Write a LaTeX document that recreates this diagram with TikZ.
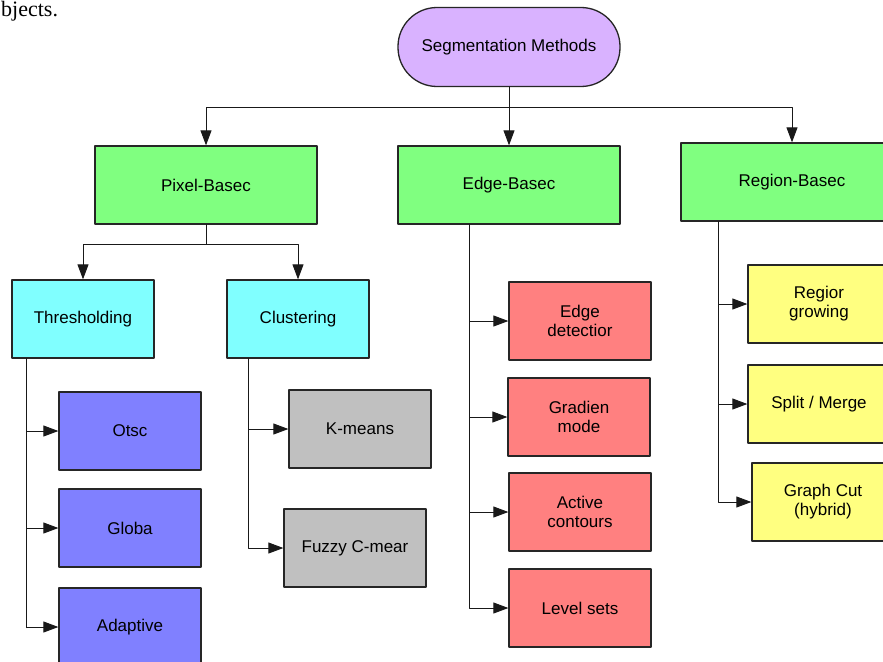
\documentclass[tikz,border=0pt]{standalone}
\usepackage{fontspec}
\setmainfont{Liberation Sans}
\newfontfamily\pageserif{Liberation Serif}
\usetikzlibrary{arrows.meta}
\definecolor{rootfill}{RGB}{217,178,255}
\definecolor{famfill}{RGB}{128,255,128}
\definecolor{subfill}{RGB}{128,255,255}
\definecolor{thrfill}{RGB}{128,128,255}
\definecolor{clufill}{RGB}{192,192,192}
\definecolor{edgfill}{RGB}{255,128,128}
\definecolor{regfill}{RGB}{255,255,128}
\tikzset{
  box/.style={draw=black!85, line width=1.3pt, minimum width=142pt, minimum height=78pt,
    inner sep=0pt, align=center, font=\fontsize{17}{19}\selectfont},
  wide/.style={box, minimum width=222pt},
  arr/.style={draw=black!90, line width=0.9pt, -{Triangle[length=15pt,width=11pt]}},
  trunk/.style={draw=black!90, line width=0.9pt}
}
\begin{document}
\begin{tikzpicture}[line cap=round,line join=round,x=1pt,y=-1pt]
\clip (0,0) rectangle (883,661);
\fill[white] (0,0) rectangle (883,661);
\node[anchor=base west, inner sep=0pt, font=\pageserif\fontsize{22}{22}\selectfont] (page) at (1,17) {bjects.};
% top level
\node[wide, fill=rootfill, rounded corners=39pt, minimum height=79pt] (root) at (509,47) {Segmentation Methods};
\node[wide, fill=famfill] (pixel) at (206,185) {Pixel-Basec};
\node[wide, fill=famfill] (edge) at (509,185) {Edge-Basec};
\node[wide, fill=famfill] (region) at (792,182) {Region-Basec};
% pixel based
\node[box, fill=subfill] (thresh) at (83,319) {Thresholding};
\node[box, fill=subfill] (clust) at (298,319) {Clustering};
\node[box, fill=thrfill] (otsu) at (130,431) {Otsc};
\node[box, fill=thrfill] (global) at (130,528) {Globa};
\node[box, fill=thrfill] (adapt) at (130,627) {Adaptive};
\node[box, fill=clufill] (kmeans) at (360,429) {K-means};
\node[box, fill=clufill] (fuzzy) at (355,548) {Fuzzy C-mear};
% edge based
\node[box, fill=edgfill] (edgedet) at (580,321) {Edge\\detectior};
\node[box, fill=edgfill] (gradient) at (579,417) {Gradien\\mode};
\node[box, fill=edgfill] (active) at (580,512) {Active\\contours};
\node[box, fill=edgfill] (level) at (580,608) {Level sets};
% region based
\node[box, fill=regfill] (grow) at (819,304) {Regior\\growing};
\node[box, fill=regfill] (split) at (819,404) {Split / Merge};
\node[box, fill=regfill] (graphcut) at (823,502) {Graph Cut\\(hybrid)};
% connectors
\draw[arr] (root.south) -- (edge.north);
\draw[arr] (root.south) -- ++(0,20) -| (pixel.north);
\draw[arr] (root.south) -- ++(0,20) -| (region.north);
\draw[arr] (pixel.south) -- ++(0,20) -| (thresh.north);
\draw[arr] (pixel.south) -- ++(0,20) -| (clust.north);
\draw[trunk] ([xshift=15pt]thresh.south west) -- ++(0,269);
\draw[arr] ([xshift=15pt]thresh.south west) |- (otsu.west);
\draw[arr] ([xshift=15pt]thresh.south west) |- (global.west);
\draw[arr] ([xshift=15pt]thresh.south west) |- (adapt.west);
\draw[arr] ([xshift=22pt]clust.south west) |- (kmeans.west);
\draw[arr] ([xshift=22pt]clust.south west) |- (fuzzy.west);
\draw[arr] ([xshift=72pt]edge.south west) |- (edgedet.west);
\draw[arr] ([xshift=72pt]edge.south west) |- (gradient.west);
\draw[arr] ([xshift=72pt]edge.south west) |- (active.west);
\draw[arr] ([xshift=72pt]edge.south west) |- (level.west);
\draw[arr] ([xshift=38pt]region.south west) |- (grow.west);
\draw[arr] ([xshift=38pt]region.south west) |- (split.west);
\draw[arr] ([xshift=38pt]region.south west) |- (graphcut.west);
\end{tikzpicture}
\end{document}
